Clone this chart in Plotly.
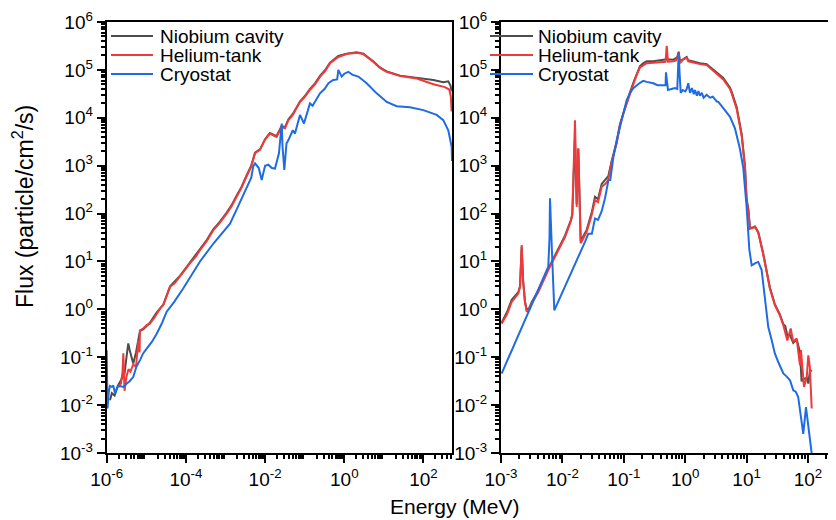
import plotly.graph_objects as go

# ---------------- data ----------------
# energies and fluxes are given as log10 exponents (E in MeV, flux in particle/cm^2/s)
left_nb_logE = [-5.917, -5.87, -5.80, -5.72, -5.62, -5.55, -5.50, -5.455, -5.42, -5.33, -5.26, -5.20, -5.16, -5.08,
                -4.91, -4.74, -4.57, -4.48, -4.40, -4.15, -3.90, -3.64, -3.47, -3.31, -3.15, -2.97, -2.85, -2.72,
                -2.60, -2.47, -2.35, -2.255, -2.13, -2.0, -1.88, -1.78, -1.71, -1.58, -1.50, -1.41, -1.30, -1.12,
                -1.0, -0.87, -0.74, -0.61, -0.48, -0.36, -0.15, 0.06, 0.31, 0.48, 0.73, 0.9, 1.07, 1.41, 1.83,
                2.25, 2.50, 2.626, 2.687, 2.71]
left_nb_logF = [-1.90, -1.75, -1.80, -1.60, -1.45, -1.35, -1.0, -0.71, -0.85, -1.13, -0.9, -0.65, -0.45, -0.42,
                -0.28, -0.07, 0.10, 0.30, 0.48, 0.70, 0.98, 1.27, 1.45, 1.67, 1.82, 2.02, 2.17, 2.37,
                2.55, 2.79, 3.0, 3.27, 3.34, 3.55, 3.68, 3.64, 3.62, 3.83, 3.80, 3.97, 4.08, 4.34,
                4.45, 4.60, 4.72, 4.88, 5.0, 5.15, 5.29, 5.34, 5.37, 5.34, 5.18, 5.05, 4.97, 4.88, 4.83,
                4.79, 4.74, 4.76, 4.66, 4.55]

left_he_logE = [-5.707, -5.64, -5.60, -5.58, -5.55, -5.50, -5.45, -5.40, -5.33, -5.26, -5.20, -5.17, -5.16, -5.08,
                -4.99, -4.91, -4.80, -4.74, -4.65, -4.57, -4.48, -4.40, -4.28, -4.15, -4.0, -3.90, -3.75, -3.64,
                -3.47, -3.31, -3.15, -2.97, -2.85, -2.72, -2.60, -2.47, -2.35, -2.255, -2.13, -2.0, -1.88, -1.78,
                -1.71, -1.58, -1.50, -1.41, -1.30, -1.12, -1.0, -0.87, -0.74, -0.61, -0.48, -0.36, -0.15, 0.06,
                0.31, 0.48, 0.73, 0.9, 1.07, 1.41, 1.83, 2.25, 2.54, 2.65, 2.69, 2.71]
left_he_logF = [-1.62, -1.55, -1.3, -0.92, -1.70, -1.40, -1.25, -1.30, -1.15, -1.20, -0.65, -0.90, -0.44, -0.40,
                -0.33, -0.30, -0.18, -0.09, 0.02, 0.09, 0.28, 0.47, 0.55, 0.68, 0.85, 0.96, 1.10, 1.24,
                1.43, 1.65, 1.80, 2.0, 2.15, 2.35, 2.53, 2.77, 2.98, 3.26, 3.33, 3.55, 3.67, 3.63,
                3.60, 3.81, 3.78, 3.95, 4.06, 4.33, 4.43, 4.58, 4.70, 4.86, 4.98, 5.14, 5.27, 5.33,
                5.36, 5.33, 5.17, 5.04, 4.96, 4.87, 4.82, 4.70, 4.64, 4.59, 4.45, 4.13]

left_cr_logE = [-6.0, -5.98, -5.95, -5.92, -5.87, -5.833, -5.79, -5.73, -5.664, -5.58, -5.495, -5.42, -5.328, -5.25,
                -5.159, -5.08, -4.99, -4.86, -4.737, -4.60, -4.485, -4.30, -4.073, -3.85, -3.644, -3.30, -2.886,
                -2.70, -2.465, -2.35, -2.30, -2.255, -2.16, -2.086, -2.0, -1.919, -1.83, -1.75, -1.65, -1.58,
                -1.56, -1.515, -1.46, -1.414, -1.30, -1.245, -1.119, -1.018, -0.867, -0.80, -0.614, -0.50, -0.40,
                -0.28, -0.18, -0.15, -0.066, 0.0, 0.101, 0.2, 0.354, 0.566, 0.818, 1.071, 1.323, 1.659, 1.995,
                2.333, 2.50, 2.626, 2.712, 2.72]
left_cr_logF = [-0.855, -2.07, -1.75, -1.60, -1.62, -1.59, -1.76, -1.62, -1.60, -1.62, -1.55, -1.50, -1.41, -1.20,
                -1.06, -0.92, -0.82, -0.68, -0.51, -0.28, -0.05, 0.15, 0.43, 0.72, 1.0, 1.38, 1.79,
                2.12, 2.56, 2.75, 2.98, 3.05, 2.95, 2.70, 3.0, 3.02, 2.95, 2.94, 3.26, 3.88,
                3.4, 2.91, 3.46, 3.53, 3.74, 3.67, 4.06, 3.88, 4.30, 4.25, 4.51, 4.60, 4.72,
                4.79, 4.80, 5.0, 4.86, 4.92, 4.96, 4.90, 4.86, 4.72, 4.51, 4.33, 4.24, 4.22, 4.16,
                4.06, 3.95, 3.74, 3.39, 3.10]

right_nb_logE = [-2.99, -2.90, -2.826, -2.76, -2.718, -2.69, -2.663, -2.64, -2.61, -2.58, -2.54, -2.50, -2.392,
                 -2.23, -2.12, -1.958, -1.86, -1.839, -1.795, -1.78, -1.767, -1.741, -1.72, -1.702, -1.605, -1.523,
                 -1.469, -1.42, -1.36, -1.30, -1.253, -1.197, -1.116, -1.062, -1.008, -0.953, -0.899, -0.845,
                 -0.79, -0.736, -0.68, -0.627, -0.52, -0.464, -0.357, -0.301, -0.194, -0.128, -0.106, -0.09,
                 -0.073, 0.024, 0.05, 0.132, 0.241, 0.35, 0.458, 0.62, 0.73, 0.757, 0.839, 0.92, 0.974, 1.0,
                 1.028, 1.055, 1.10, 1.137, 1.19, 1.27, 1.38, 1.46, 1.54, 1.598, 1.63, 1.663, 1.70, 1.76, 1.815,
                 1.84, 1.87, 1.895, 1.935, 1.98, 2.005, 2.03, 2.06]
right_nb_logF = [-0.28, -0.05, 0.20, 0.30, 0.36, 0.48, 1.30, 0.6, 0.17, -0.02, 0.03, 0.15, 0.40,
                 0.85, 1.13, 1.54, 1.87, 1.99, 3.6, 2.6, 2.2, 3.36, 2.4, 1.42, 1.66, 2.02,
                 2.35, 2.30, 2.62, 2.70, 2.78, 3.10, 3.50, 3.87, 4.10, 4.32, 4.53, 4.73,
                 4.93, 5.08, 5.14, 5.18, 5.18, 5.19, 5.20, 5.22, 5.21, 5.27, 5.38, 5.22,
                 5.19, 5.27, 5.20, 5.17, 5.14, 5.12, 5.01, 4.83, 4.63, 4.54, 4.22, 3.66, 2.98, 2.30,
                 2.09, 1.70, 1.71, 1.73, 1.61, 1.17, 0.45, 0.11, -0.10, -0.31, -0.35, -0.55, -0.52, -0.70, -0.62,
                 -0.73, -0.9, -1.5, -1.45, -1.43, -1.55, -1.3, -1.27]

right_he_logE = [-2.99, -2.90, -2.826, -2.76, -2.718, -2.69, -2.663, -2.64, -2.61, -2.58, -2.54, -2.50, -2.392,
                 -2.23, -2.12, -1.958, -1.86, -1.839, -1.795, -1.78, -1.767, -1.741, -1.72, -1.702, -1.605, -1.523,
                 -1.469, -1.42, -1.36, -1.30, -1.253, -1.197, -1.116, -1.062, -1.008, -0.953, -0.899, -0.845,
                 -0.79, -0.736, -0.68, -0.627, -0.52, -0.464, -0.357, -0.32, -0.301, -0.28, -0.194, -0.15, -0.128,
                 -0.106, -0.09, -0.073, -0.03, 0.024, 0.05, 0.132, 0.241, 0.35, 0.458, 0.62, 0.73, 0.757, 0.839,
                 0.92, 0.974, 1.0, 1.028, 1.055, 1.10, 1.137, 1.19, 1.27, 1.38, 1.46, 1.54, 1.598, 1.663, 1.718,
                 1.76, 1.815, 1.87, 1.885, 1.935, 1.98, 2.005, 2.03, 2.06]
right_he_logF = [-0.30, -0.10, 0.155, 0.25, 0.33, 0.47, 1.34, 0.6, 0.15, -0.05, 0.0, 0.12, 0.36,
                 0.82, 1.10, 1.51, 1.85, 1.97, 3.95, 2.8, 2.14, 3.36, 2.5, 1.38, 1.62, 1.97,
                 2.28, 2.24, 2.56, 2.62, 2.70, 3.08, 3.47, 3.85, 4.09, 4.30, 4.51, 4.70,
                 4.90, 5.05, 5.10, 5.14, 5.15, 5.16, 5.17, 5.17, 5.50, 5.17, 5.18, 5.20, 5.25,
                 5.36, 5.20, 5.16, 5.22, 5.25, 5.18, 5.15, 5.12, 5.10, 4.98, 4.80, 4.60, 4.51, 4.18,
                 3.62, 2.95, 2.28, 2.07, 1.68, 1.70, 1.72, 1.60, 1.15, 0.43, 0.09, -0.12, -0.33, -0.65, -0.40,
                 -0.68, -0.61, -1.17, -0.85, -1.62, -1.41, -0.96, -1.20, -2.07]

right_cr_logE = [-2.99, -2.23, -2.21, -2.202, -2.17, -2.132, -1.632, -1.578, -1.52, -1.469, -1.42, -1.36, -1.306,
                 -1.25, -1.22, -1.17, -1.116, -1.062, -1.008, -0.953, -0.899, -0.845, -0.736, -0.682, -0.627,
                 -0.52, -0.45, -0.357, -0.32, -0.313, -0.29, -0.28, -0.194, -0.166, -0.129, -0.106, -0.09,
                 -0.073, -0.04, 0.0, 0.024, 0.05, 0.078, 0.11, 0.14, 0.16, 0.19, 0.215, 0.24, 0.27, 0.30, 0.35,
                 0.404, 0.45, 0.513, 0.539, 0.62, 0.73, 0.81, 0.89, 0.946, 1.0, 1.045, 1.083, 1.15, 1.19, 1.245,
                 1.30, 1.353, 1.41, 1.46, 1.516, 1.598, 1.65, 1.707, 1.76, 1.80, 1.84, 1.897, 1.923, 1.967,
                 2.005, 2.06]
right_cr_logF = [-1.34, 0.89, 1.5, 2.32, 1.2, -0.02, 1.41, 1.58, 1.58, 1.90, 1.87, 2.05, 2.32,
                 2.70, 2.70, 3.18, 3.53, 3.81, 4.10, 4.37, 4.52, 4.62, 4.73, 4.77, 4.75,
                 4.72, 4.68, 4.67, 4.68, 4.95, 4.62, 4.58, 4.61, 4.62, 4.60, 5.35, 4.9,
                 4.52, 4.58, 4.55, 4.60, 4.72, 4.52, 4.62, 4.49, 4.58, 4.46, 4.56, 4.46, 4.52, 4.42, 4.48,
                 4.42, 4.44, 4.34, 4.33, 4.20, 4.02, 3.78, 3.36, 2.95, 2.15, 1.24, 0.92, 0.97, 0.99, 0.82,
                 0.19, -0.37, -0.65, -0.92, -1.10, -1.34, -1.40, -1.48, -1.69, -1.72, -1.83, -2.32, -2.60, -2.04,
                 -2.46, -3.01]

series_names = ["Niobium cavity", "Helium-tank", "Cryostat"]
series_colors = ["#4d4d4d", "#f03a3a", "#1f6be3"]

y_tick_exps = [-3, -2, -1, 0, 1, 2, 3, 4, 5, 6]
left_x_tick_exps = [-6, -4, -2, 0, 2]
right_x_tick_exps = [-3, -2, -1, 0, 1, 2]


def pw(vals):
    return [10 ** v for v in vals]


def tick_labels(exps):
    return [f"10<sup>{e}</sup>" for e in exps]


def minor_vals(lo, hi):
    return [k * 10 ** d for d in range(lo, hi) for k in range(2, 10)]


# ---------------- figure ----------------
# the page body adds an 8px margin, so the figure is 8px smaller on each side
OFF = 8
W, H = 836 - OFF, 520 - OFF
FONT = "Liberation Sans, Arial, sans-serif"

fig = go.Figure()
left_data = [(left_nb_logE, left_nb_logF), (left_he_logE, left_he_logF), (left_cr_logE, left_cr_logF)]
right_data = [(right_nb_logE, right_nb_logF), (right_he_logE, right_he_logF), (right_cr_logE, right_cr_logF)]
for (ex, fy), name, col in zip(left_data, series_names, series_colors):
    fig.add_trace(go.Scatter(x=pw(ex), y=pw(fy), mode="lines", name=name, showlegend=False,
                             line=dict(color=col, width=2), xaxis="x", yaxis="y"))
for (ex, fy), name, col in zip(right_data, series_names, series_colors):
    fig.add_trace(go.Scatter(x=pw(ex), y=pw(fy), mode="lines", name=name, showlegend=False,
                             line=dict(color=col, width=2), xaxis="x2", yaxis="y2"))

px = lambda x: (x - OFF) / W
py = lambda y: 1 - (y - OFF) / H

common_axis = dict(type="log", showgrid=False, zeroline=False, showline=True, linecolor="black",
                   linewidth=2, ticks="outside", ticklen=8, tickwidth=2, tickcolor="black",
                   tickfont=dict(family=FONT, size=19, color="black"), tickmode="array",
                   automargin=False)

fig.update_layout(
    width=W, height=H, margin=dict(l=0, r=0, t=0, b=0, pad=0, autoexpand=False),
    paper_bgcolor="white", plot_bgcolor="white", showlegend=False,
    xaxis=dict(common_axis, domain=[px(106.7), px(452)], range=[-6, 2.72], anchor="y", mirror=True,
               tickvals=pw(left_x_tick_exps), ticktext=tick_labels(left_x_tick_exps),
               minor=dict(ticks="outside", ticklen=4, tickwidth=1.5, tickcolor="black",
                          tickmode="array", tickvals=minor_vals(-6, 3))),
    yaxis=dict(common_axis, domain=[py(453), py(22)], range=[-3, 6], anchor="x", mirror=True,
               tickvals=pw(y_tick_exps), ticktext=tick_labels(y_tick_exps),
               minor=dict(ticks="outside", ticklen=4, tickwidth=1.5, tickcolor="black",
                          tickmode="array", tickvals=minor_vals(-3, 6))),
    xaxis2=dict(common_axis, domain=[px(501), 1.0], range=[-3, 2.456], anchor="y2", mirror=True,
                tickvals=pw(right_x_tick_exps), ticktext=tick_labels(right_x_tick_exps),
                minor=dict(ticks="outside", ticklen=4, tickwidth=1.5, tickcolor="black",
                           tickmode="array", tickvals=minor_vals(-3, 3))),
    yaxis2=dict(common_axis, domain=[py(453), py(22)], range=[-3, 6], anchor="x2", mirror=False,
                tickvals=pw(y_tick_exps), ticktext=tick_labels(y_tick_exps),
                minor=dict(ticks="outside", ticklen=4, tickwidth=1.5, tickcolor="black",
                           tickmode="array", tickvals=minor_vals(-3, 6))),
)

# axis titles
fig.add_annotation(text="Energy (MeV)", x=px(455), y=py(506), xref="paper", yref="paper",
                   showarrow=False, xanchor="center", yanchor="middle",
                   font=dict(family=FONT, size=21, color="black"))
fig.add_annotation(text="Flux (particle/cm<sup>2</sup>/s)", x=px(23), y=py(207), xref="paper", yref="paper",
                   showarrow=False, xanchor="center", yanchor="middle", textangle=-90,
                   font=dict(family=FONT, size=23, color="black"))

# legends (one per panel)
legend_rows = [36, 55, 74]
for (lx0, lx1, tx) in [(111, 153, 158), (490, 533, 536)]:
    for name, col, ry in zip(series_names, series_colors, legend_rows):
        fig.add_shape(type="line", xref="paper", yref="paper", x0=px(lx0), x1=px(lx1), y0=py(ry), y1=py(ry),
                      line=dict(color=col, width=2))
        fig.add_annotation(text=name, x=px(tx), y=py(ry), xref="paper", yref="paper", showarrow=False,
                           xanchor="left", yanchor="middle", font=dict(family=FONT, size=19, color="black"))

fig.write_html("out.html")
